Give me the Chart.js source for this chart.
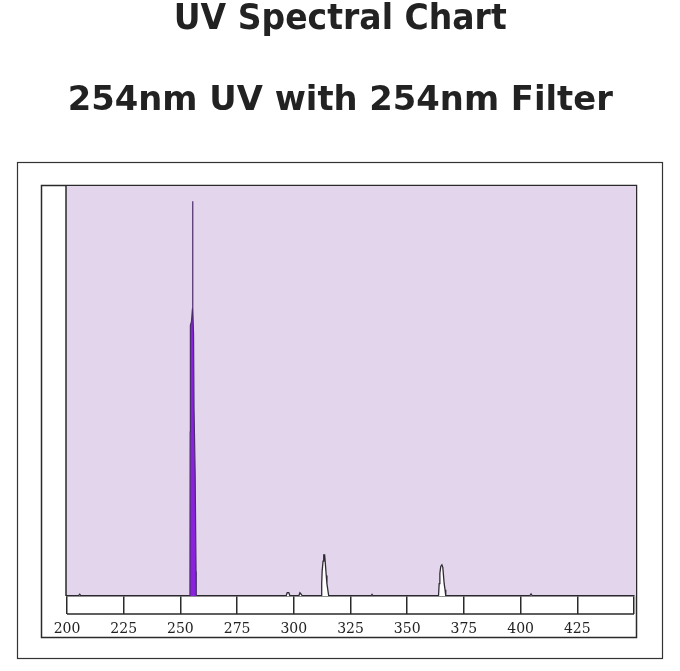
<!DOCTYPE html>
<html>
<head>
<meta charset="utf-8">
<script src="https://cdn.jsdelivr.net/npm/chart.js@4.4.1/dist/chart.umd.min.js"></script>
<style>
  html, body { margin: 0; padding: 0; background: #ffffff; }
  #wrap { position: relative; width: 680px; height: 671px; overflow: hidden; }
  canvas { position: absolute; left: 0; top: 0; }
  .ttl { position: absolute; left: 0; width: 680px; text-align: center;
         font-family: "DejaVu Sans", Verdana, sans-serif; font-weight: bold;
         color: #222222; line-height: 1; white-space: nowrap; }
  .ttl span { display: inline-block; transform-origin: 50% 50%; }
</style>
</head>
<body>
<div id="wrap">
  <canvas id="c" width="680" height="671"></canvas>
  <div class="ttl" id="t1" style="top:0px;font-size:35px;"><span data-w="333">UV Spectral Chart</span></div>
  <div class="ttl" id="t2" style="top:81px;font-size:34px;"><span data-w="545">254nm UV with 254nm Filter</span></div>
</div>
<script>
// ---- data ----
const tickValues = [200, 225, 250, 275, 300, 325, 350, 375, 400, 425, 450];
const tickLabels = ['200', '225', '250', '275', '300', '325', '350', '375', '400', '425', ''];

// background trace (nm, relative intensity %)
const traceWavelength = [200, 205, 205.6, 206.2, 254, 257, 296.6, 297.1, 297.8, 298.3,
  302.2, 302.7, 303.3, 303.8,
  312.1, 312.3, 312.5, 312.9, 313.2, 313.6, 313.9, 314.3, 314.6, 315.0, 315.4,
  334.0, 334.5, 335.0,
  363.8, 364.1, 364.4, 364.8, 365.3, 365.7, 366.0, 366.3, 366.7, 367.0,
  404.0, 404.6, 405.2, 450];
const traceIntensity = [0, 0, 0.4, 0, 0, 0, 0, 0.8, 0.8, 0,
  0, 0.8, 0.4, 0,
  0, 3, 6, 8.5, 10, 10, 8, 5, 3, 1.5, 0,
  0, 0.4, 0,
  0, 3, 5.5, 7.2, 7.6, 7, 5, 3, 1.5, 0,
  0, 0.5, 0, 0];

// main 254 nm line
const peakWavelength = [254.2, 254.3, 254.4, 254.9, 255.3, 255.4, 255.5, 255.8, 256.0, 256.5, 256.9, 257.0];
const peakIntensity  = [0, 40, 66, 67, 70, 96.3, 70, 64, 46, 30, 6, 0];

const toXY = (xs, ys) => xs.map((x, i) => ({ x: x, y: ys[i] }));

const framePlugin = {
  id: 'frames',
  beforeDraw(chart) {
    const { ctx, chartArea: a } = chart;
    ctx.save();
    // outer box
    ctx.strokeStyle = '#333333';
    ctx.lineWidth = 1.2;
    ctx.strokeRect(17.5, 162.5, 645, 496);
    // inner frame
    ctx.lineWidth = 1.5;
    ctx.strokeStyle = '#2a2a2a';
    ctx.strokeRect(41.5, 185.5, 595, 452);
    // lavender plot area
    ctx.fillStyle = '#e3d6ec';
    ctx.fillRect(a.left - 1, 186, a.right - a.left + 3, a.bottom - 186);
    // left edge of plot
    ctx.beginPath();
    ctx.moveTo(a.left - 1, 185.5);
    ctx.lineTo(a.left - 1, a.bottom);
    ctx.stroke();
    ctx.restore();
  },
  afterDraw(chart) {
    const { ctx, chartArea: a } = chart;
    ctx.save();
    ctx.strokeStyle = '#2a2a2a';
    ctx.lineWidth = 1.5;
    ctx.beginPath();
    ctx.moveTo(a.left, a.bottom + 18);
    ctx.lineTo(a.right, a.bottom + 18);
    ctx.stroke();
    ctx.restore();
  }
};

new Chart(document.getElementById('c'), {
  type: 'line',
  data: {
    datasets: [
      {
        label: '254nm',
        data: toXY(peakWavelength, peakIntensity),
        borderColor: '#4b2a6e',
        borderWidth: 1.2,
        backgroundColor: '#8a22dd',
        fill: 'origin',
        pointRadius: 0,
        tension: 0
      },
      {
        label: 'trace',
        data: toXY(traceWavelength, traceIntensity),
        borderColor: '#2e2a33',
        borderWidth: 1.3,
        backgroundColor: '#ffffff',
        fill: 'origin',
        pointRadius: 0,
        tension: 0
      }
    ]
  },
  plugins: [framePlugin],
  options: {
    responsive: false,
    animation: false,
    devicePixelRatio: 1,
    layout: { padding: { left: 67, right: 46, top: 186, bottom: 35 } },
    plugins: { legend: { display: false }, tooltip: { enabled: false }, title: { display: false } },
    scales: {
      x: {
        type: 'linear',
        min: 200,
        max: 450,
        afterBuildTicks: (s) => { s.ticks = tickValues.map(v => ({ value: v })); },
        afterFit: (s) => { s.height = 40; },
        grid: { display: true, drawOnChartArea: false, drawTicks: true, tickLength: 18,
                color: '#2a2a2a', lineWidth: 1.5 },
        border: { display: true, color: '#222222', width: 1.5 },
        ticks: {
          autoSkip: false,
          maxRotation: 0,
          padding: 7,
          color: '#222222',
          font: { family: '"DejaVu Serif", "Liberation Serif", serif', size: 14 },
          callback: (v) => { const i = tickValues.indexOf(v); return i >= 0 ? tickLabels[i] : ''; }
        }
      },
      y: {
        display: false,
        min: 0,
        max: 100
      }
    }
  }
});

// fit titles to the measured widths
document.querySelectorAll('.ttl span').forEach(sp => {
  const w = sp.getBoundingClientRect().width;
  const target = parseFloat(sp.dataset.w);
  sp.style.transform = 'scaleX(' + (target / w) + ')';
});
</script>
</body>
</html>
